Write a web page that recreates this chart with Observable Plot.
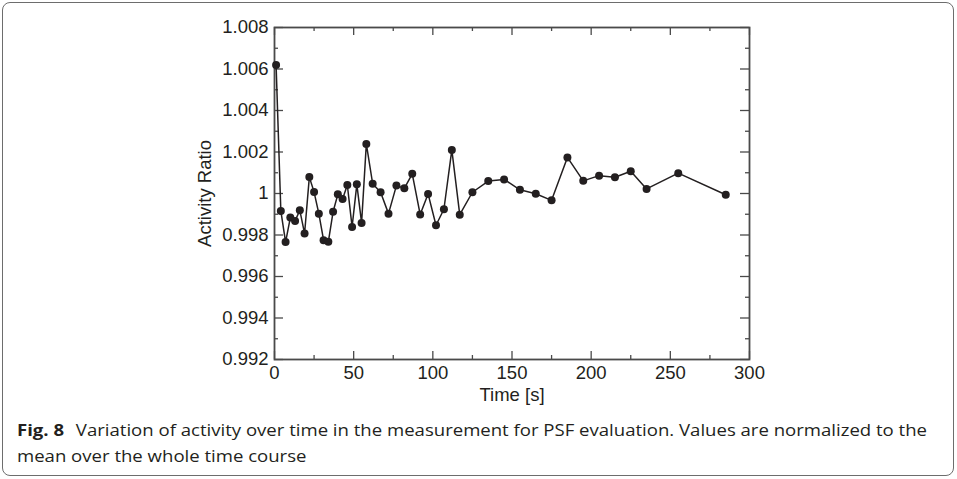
<!DOCTYPE html>
<html>
<head>
<meta charset="utf-8">
<script src="https://cdn.jsdelivr.net/npm/d3@7"></script>
<script src="https://cdn.jsdelivr.net/npm/@observablehq/plot@0.6"></script>
<style>
  html, body { margin: 0; padding: 0; background: #fff; }
  body { width: 957px; height: 479px; position: relative; overflow: hidden; }
  #box { position: absolute; left: 2px; top: 2px; width: 950px; height: 472px;
         border: 1.5px solid #6d6d6d; border-radius: 8px; }
  #chart { position: absolute; left: 0; top: 0; }
  #caption { position: absolute; left: 17px; top: 417px; font-family: "Open Sans", Lato, sans-serif;
             font-size: 16px; line-height: 26px; color: #231f20; white-space: nowrap; transform-origin: 0 0; }
  #caption b { font-weight: 700; margin-right: 6px; }
  #caption div { display: block; }
</style>
</head>
<body>
<div id="box"></div>
<div id="chart"></div>
<div id="caption">
  <div id="cap1"><b>Fig. 8</b> Variation of activity over time in the measurement for PSF evaluation. Values are normalized to the</div>
  <div>mean over the whole time course</div>
</div>
<script>
// Data
const times = [1, 4, 7, 10, 13, 16, 19, 22, 25, 28, 31, 34, 37, 40, 43, 46, 49, 52, 55, 58,
               62, 67, 72, 77, 82, 87, 92, 97, 102, 107, 112, 117, 125, 135, 145, 155, 165, 175,
               185, 195, 205, 215, 225, 235, 255, 285];
const ratios = [1.00619, 0.99916, 0.99766, 0.99884, 0.99868, 0.99919, 0.99807, 1.00079, 1.00007, 0.99903,
                0.99775, 0.99767, 0.99912, 0.99996, 0.99974, 1.00041, 0.99839, 1.00044, 0.99858, 1.00239,
                1.00047, 1.00006, 0.99903, 1.00038, 1.00025, 1.00095, 0.99899, 0.99998, 0.99847, 0.99924,
                1.00210, 0.99898, 1.00006, 1.00060, 1.00068, 1.00018, 0.99999, 0.99967,
                1.00174, 1.00061, 1.00086, 1.00078, 1.00107, 1.00022, 1.00098, 0.99994];
const xTicks = [0, 50, 100, 150, 200, 250, 300];
const xMinorTicks = [25, 75, 125, 175, 225, 275];
const yTicks = [0.992, 0.994, 0.996, 0.998, 1.000, 1.002, 1.004, 1.006, 1.008];
const yMinorTicks = [0.993, 0.995, 0.997, 0.999, 1.001, 1.003, 1.005, 1.007];

const data = times.map((t, i) => ({t, r: ratios[i]}));

const W = 957, H = 414;
const mL = 274, mR = W - 749, mT = 27, mB = H - 359;
const pw = W - mL - mR, ph = H - mT - mB;
const axisColor = "#4a4a4a";
const ink = "#231f20";
const fmtY = d => String(+d.toFixed(3));

const chart = Plot.plot({
  width: W, height: H,
  marginLeft: mL, marginRight: mR, marginTop: mT, marginBottom: mB,
  style: {fontFamily: "'Liberation Sans', Arial, sans-serif", fontSize: "18.5px", color: ink, background: "transparent"},
  x: {domain: [0, 300]},
  y: {domain: [0.992, 1.008]},
  marks: [
    Plot.tickY(yTicks, {y: d => d, stroke: axisColor, strokeWidth: 1.3, insetRight: pw - 9}),
    Plot.tickY(yTicks, {y: d => d, stroke: axisColor, strokeWidth: 1.3, insetLeft: pw - 9}),
    Plot.tickY(yMinorTicks, {y: d => d, stroke: axisColor, strokeWidth: 1.3, insetRight: pw - 4}),
    Plot.tickY(yMinorTicks, {y: d => d, stroke: axisColor, strokeWidth: 1.3, insetLeft: pw - 4}),
    Plot.tickX(xTicks, {x: d => d, stroke: axisColor, strokeWidth: 1.3, insetTop: ph - 8}),
    Plot.tickX(xTicks, {x: d => d, stroke: axisColor, strokeWidth: 1.3, insetBottom: ph - 8}),
    Plot.tickX(xMinorTicks, {x: d => d, stroke: axisColor, strokeWidth: 1.3, insetTop: ph - 4}),
    Plot.tickX(xMinorTicks, {x: d => d, stroke: axisColor, strokeWidth: 1.3, insetBottom: ph - 4}),
    Plot.frame({stroke: axisColor, strokeWidth: 1.8}),
    Plot.axisY({ticks: yTicks, tickFormat: fmtY, tickSize: 0, tickPadding: 6,
                label: "Activity Ratio", labelAnchor: "center", labelArrow: false, labelOffset: 77}),
    Plot.axisX({ticks: xTicks, tickFormat: d => String(d), tickSize: 0, tickPadding: 6,
                label: "Time [s]", labelAnchor: "center", labelArrow: false, labelOffset: 41}),
    Plot.line(data, {x: "t", y: "r", stroke: ink, strokeWidth: 1.5}),
    Plot.dot(data, {x: "t", y: "r", r: 4, fill: ink, stroke: "none"})
  ]
});
document.getElementById("chart").appendChild(chart);

// fit caption first line to the reference width (~910px)
const cap = document.getElementById("caption");
const line1 = document.getElementById("cap1");
const range = document.createRange();
range.selectNodeContents(line1);
const w = range.getBoundingClientRect().width;
if (w > 0) cap.style.transform = `scaleX(${910 / w})`;
</script>
</body>
</html>
